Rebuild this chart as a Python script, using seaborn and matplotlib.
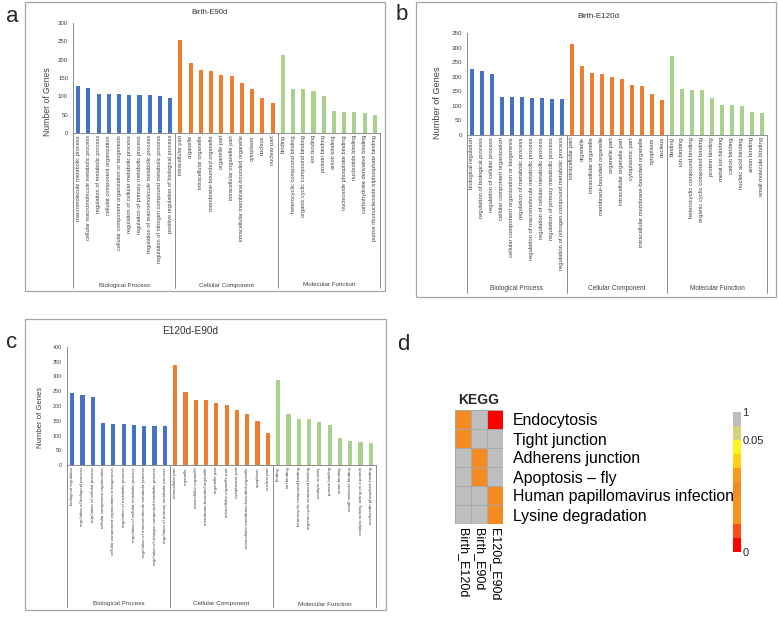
"""GO enrichment bar charts (a-c) and KEGG heatmap (d)."""

import numpy as np
import pandas as pd
import matplotlib
matplotlib.use('Agg')
import matplotlib.pyplot as plt
import seaborn as sns
from matplotlib.colors import ListedColormap, BoundaryNorm
from matplotlib.patches import Rectangle
from matplotlib.lines import Line2D
import matplotlib.transforms as mtransforms

# ---- panel a: Birth-E90d ----
a_bp_terms = ['macromolecule metabolic process', 'cellular macromolecule metabolic process',
              'regulation of metabolic process', 'cellular component organization',
              'cellular component organization or biogenesis', 'regulation of cellular metabolic process',
              'regulation of primary metabolic process', 'regulation of macromolecule metabolic process',
              'regulation of nitrogen compound metabolic process', 'positive regulation of biological process']
a_bp_counts = [128, 123, 107, 106, 106, 104, 103, 103, 100, 95]
a_cc_terms = ['intracellular part', 'organelle', 'intracellular organelle', 'membrane-bounded organelle',
              'organelle part', 'intracellular organelle part', 'intracellular membrane-bounded organelle',
              'cytoplasm', 'nucleus', 'nuclear part']
a_cc_counts = [253, 190, 171, 168, 157, 155, 137, 119, 96, 82]
a_mf_terms = ['binding', 'heterocyclic compound binding', 'organic cyclic compound binding', 'ion binding',
              'protein binding', 'anion binding', 'nucleoside phosphate binding', 'nucleotide binding',
              'carbohydrate derivative binding', 'purine ribonucleoside triphosphate binding']
a_mf_counts = [212, 120, 120, 114, 102, 59, 57, 57, 54, 49]

# ---- panel b: Birth-E120d ----
b_bp_terms = ['biological regulation', 'regulation of biological process', 'regulation of cellular process',
              'cellular component organization', 'cellular component organization or biogenesis',
              'regulation of metabolic process', 'regulation of macromolecule metabolic process',
              'regulation of cellular metabolic process', 'regulation of primary metabolic process',
              'regulation of nitrogen compound metabolic process']
b_bp_counts = [225, 220, 211, 132, 132, 131, 128, 126, 125, 124]
b_cc_terms = ['intracellular part', 'organelle', 'intracellular organelle', 'membrane-bounded organelle',
              'organelle part', 'intracellular organelle part', 'cytoplasmic part',
              'intracellular membrane-bounded organelle', 'cytoplasm', 'nucleus']
b_cc_counts = [312, 238, 214, 211, 198, 193, 171, 167, 139, 120]
b_mf_terms = ['binding', 'ion binding', 'heterocyclic compound binding', 'organic cyclic compound binding',
              'protein binding', 'metal ion binding', 'cation binding', 'nucleic acid binding',
              'anion binding', 'small molecule binding']
b_mf_counts = [270, 157, 155, 155, 126, 103, 103, 101, 80, 74]

# ---- panel c: E120d-E90d ----
c_bp_terms = ['biological regulation', 'regulation of biological process', 'regulation of cellular process',
              'cellular component organization', 'cellular component organization or biogenesis',
              'regulation of metabolic process', 'regulation of cellular metabolic process',
              'regulation of macromolecule metabolic process',
              'regulation of nitrogen compound metabolic process', 'regulation of primary metabolic process']
c_bp_counts = [244, 238, 232, 141, 140, 138, 135, 133, 131, 131]
c_cc_terms = ['intracellular part', 'organelle', 'intracellular organelle', 'membrane-bounded organelle',
              'organelle part', 'intracellular organelle part', 'cytoplasmic part',
              'intracellular membrane-bounded organelle', 'cytoplasm', 'nuclear part']
c_cc_counts = [338, 246, 220, 220, 210, 203, 187, 172, 148, 110]
c_mf_terms = ['binding', 'ion binding', 'heterocyclic compound binding', 'organic cyclic compound binding',
              'catalytic activity', 'protein binding', 'anion binding', 'small molecule binding',
              'catalytic activity, acting on a protein', 'nucleoside phosphate binding']
c_mf_counts = [287, 172, 156, 156, 145, 135, 90, 82, 78, 75]

groups = ['Biological Process', 'Cellular Component', 'Molecular Function']

# ---- panel d: KEGG ----
kegg_pathways = ['Endocytosis', 'Tight junction', 'Adherens junction', 'Apoptosis \u2013 fly',
                 'Human papillomavirus infection', 'Lysine degradation']
kegg_comparisons = ['Birth_E120d', 'Birth_E90d', 'E120d_E90d']
kegg_birth_e120d = [0.03, 0.03, 1, 1, 1, 1]
kegg_birth_e90d = [1, 1, 0.03, 0.03, 1, 1]
kegg_e120d_e90d = [0.002, 1, 1, 1, 0.03, 0.03]

W, H = 778, 618
GROUP_COLORS = {'Biological Process': '#4472C4',
                'Cellular Component': '#ED7D31',
                'Molecular Function': '#A9D18E'}
AXIS_GREY = '#8C8C8C'
TEXT_GREY = '#404040'


def fx(px):
    return px / W


def fy(py):
    return 1 - py / H


def add_axes_px(fig, left, top, right, bottom):
    return fig.add_axes([fx(left), fy(bottom), (right - left) / W, (bottom - top) / H])


def draw_go_panel(fig, box, axes_px, terms, counts, title, title_xy, title_size,
                  ymax, ylabel_xy, ylabel_size, tick_size, label_size,
                  sep_bottom, group_y, group_size):
    # chart frame
    bl, bt, br, bb = box
    fig.add_artist(Rectangle((fx(bl), fy(bb)), (br - bl) / W, (bb - bt) / H,
                             transform=fig.transFigure, fill=False,
                             edgecolor='#A6A6A6', linewidth=0.9))

    df = pd.DataFrame({
        'term': sum(terms, []),
        'count': sum(counts, []),
        'group': [g for g, t in zip(groups, terms) for _ in t],
    })
    ax = add_axes_px(fig, *axes_px)
    sns.barplot(data=df, x='term', y='count', hue='group', palette=GROUP_COLORS,
                dodge=False, width=0.4, legend=False, ax=ax, saturation=1, linewidth=0)
    n = len(df)
    ax.set_xlim(-0.5, n - 0.5)
    ax.set_ylim(0, ymax)
    ax.set_yticks(np.arange(0, ymax + 1, 50))
    ax.tick_params(axis='y', labelsize=tick_size, colors=TEXT_GREY, length=2, width=0.5, pad=1.5)
    ax.set_xticks(range(n))
    ax.set_xticklabels(df['term'], rotation=90, fontsize=label_size, color=TEXT_GREY)
    ax.tick_params(axis='x', which='major', length=0, pad=1.5)
    ax.set_xticks(np.arange(-0.5, n, 1), minor=True)
    ax.tick_params(axis='x', which='minor', length=2, width=0.5, color=AXIS_GREY)
    ax.set_xlabel('')
    ax.set_ylabel('')
    for side in ['top', 'right']:
        ax.spines[side].set_visible(False)
    for side in ['left', 'bottom']:
        ax.spines[side].set_color(AXIS_GREY)
        ax.spines[side].set_linewidth(0.7)

    # group separators and group names under the category labels
    trans = mtransforms.blended_transform_factory(ax.transData, fig.transFigure)
    for xs in [-0.5, 9.5, 19.5, 29.5]:
        fig.add_artist(Line2D([xs, xs], [fy(axes_px[3]), fy(sep_bottom)], transform=trans,
                              color=AXIS_GREY, linewidth=0.7))
    for i, g in enumerate(groups):
        fig.text(i * 10 + 4.5, fy(group_y), g, transform=trans, ha='center', va='center',
                 fontsize=group_size, color=TEXT_GREY)

    fig.text(fx(title_xy[0]), fy(title_xy[1]), title, ha='center', va='center',
             fontsize=title_size, color='#303030')
    fig.text(fx(ylabel_xy[0]), fy(ylabel_xy[1]), 'Number of Genes', rotation=90,
             ha='center', va='center', fontsize=ylabel_size, color=TEXT_GREY)
    return ax


sns.set_style('white')
plt.rcParams['font.family'] = ['Liberation Sans', 'DejaVu Sans']

fig = plt.figure(figsize=(W / 100, H / 100), dpi=100)
fig.patch.set_facecolor('white')

draw_go_panel(fig, (25, 2, 385, 291), (73, 23, 380, 133),
              [a_bp_terms, a_cc_terms, a_mf_terms], [a_bp_counts, a_cc_counts, a_mf_counts],
              'Birth-E90d', (210, 12), 5.5, 300, (47, 102), 6.2, 4.3, 4.1,
              288, 285, 4.5)
draw_go_panel(fig, (416, 2, 776, 297), (467, 33, 767, 135),
              [b_bp_terms, b_cc_terms, b_mf_terms], [b_bp_counts, b_cc_counts, b_mf_counts],
              'Birth-E120d', (598, 16), 5.8, 350, (437, 103), 6.6, 4.5, 4.2,
              293, 289, 4.7)
draw_go_panel(fig, (25, 319, 386, 610), (67, 347, 376, 465),
              [c_bp_terms, c_cc_terms, c_mf_terms], [c_bp_counts, c_cc_counts, c_mf_counts],
              'E120d-E90d', (190, 331), 7.2, 400, (40, 417), 5.6, 3.9, 3.2,
              607, 604, 4.6)

# ---- KEGG heatmap ----
kegg = pd.DataFrame({'Birth_E120d': kegg_birth_e120d,
                     'Birth_E90d': kegg_birth_e90d,
                     'E120d_E90d': kegg_e120d_e90d}, index=kegg_pathways)[kegg_comparisons]
bounds = [0, 0.00625, 0.0125, 0.01875, 0.025, 0.03125, 0.0375, 0.04375, 0.05, 0.5, 1]
colors = ['#FF0000', '#FF4A16', '#F8911E', '#F7941D', '#F58A22', '#F99A1C',
          '#FFCF1A', '#FFF41F', '#D6D27C', '#BEBEBE']
cmap = ListedColormap(colors)
norm = BoundaryNorm(bounds, cmap.N)

axd = add_axes_px(fig, 455, 410, 503, 524)
sns.heatmap(kegg, cmap=cmap, norm=norm, cbar=False, linewidths=0.6, linecolor='#A8A8A8',
            xticklabels=True, yticklabels=True, ax=axd)
axd.yaxis.tick_right()
axd.set_yticklabels(kegg_pathways, rotation=0, fontsize=11.4, color='black')
axd.set_xticklabels(kegg_comparisons, rotation=270, fontsize=9, color='black')
axd.tick_params(axis='y', length=0, pad=7)
axd.tick_params(axis='x', length=0, pad=3)
for t in axd.get_xticklabels():
    t.set_va('top')
axd.set_xlabel('')
axd.set_ylabel('')
axd.set_title('KEGG', fontsize=10, fontweight='bold', pad=4)

cax = add_axes_px(fig, 733, 412, 741, 552)
cb = fig.colorbar(plt.cm.ScalarMappable(norm=norm, cmap=cmap), cax=cax,
                  spacing='uniform', ticks=[0, 0.05, 1])
cb.set_ticklabels(['0', '0.05', '1'])
cb.outline.set_visible(False)
cax.minorticks_off()
cax.tick_params(which='both', length=0, labelsize=8, pad=1)

# panel letters
for letter, (px, py) in {'a': (12, 17), 'b': (402, 14), 'c': (12, 342), 'd': (403, 344)}.items():
    fig.text(fx(px), fy(py), letter, ha='center', va='center', fontsize=16)

fig.savefig('out.png', dpi=100)
